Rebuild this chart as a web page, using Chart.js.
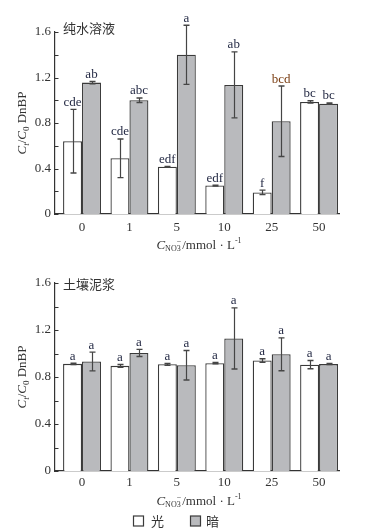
<!DOCTYPE html>
<html>
<head>
<meta charset="utf-8">
<script src="https://cdn.jsdelivr.net/npm/chart.js@4/dist/chart.umd.min.js"></script>
<style>
  html, body { margin: 0; padding: 0; background: #fff; }
  #wrap { position: relative; width: 367px; height: 532px; }
  canvas { position: absolute; left: 0; }
  #chart-water { top: 0; }
  #chart-soil { top: 255px; }
</style>
</head>
<body>
<div id="wrap">
  <canvas id="chart-water" width="367" height="255"></canvas>
  <canvas id="chart-soil" width="367" height="277"></canvas>
</div>
<script>
// ── Data ─────────────────────────────────────────────────────────────────
const NITRATE = ['0', '1', '5', '10', '25', '50'];
const Y_TICKS = [0, 0.4, 0.8, 1.2, 1.6];

const WATER_LIGHT     = [0.64, 0.49, 0.415, 0.25, 0.19, 0.985];
const WATER_LIGHT_ERR = [0.28, 0.17, 0.004, 0.004, 0.02, 0.01];
const WATER_LIGHT_SIG = ['cde', 'cde', 'edf', 'edf', 'f', 'bc'];
const WATER_DARK      = [1.155, 1.0, 1.40, 1.135, 0.815, 0.97];
const WATER_DARK_ERR  = [0.01, 0.02, 0.26, 0.29, 0.31, 0.006];
const WATER_DARK_SIG  = ['ab', 'abc', 'a', 'ab', 'bcd', 'bc'];

const SOIL_LIGHT     = [0.912, 0.895, 0.908, 0.918, 0.94, 0.905];
const SOIL_LIGHT_ERR = [0.006, 0.012, 0.008, 0.005, 0.015, 0.035];
const SOIL_LIGHT_SIG = ['a', 'a', 'a', 'a', 'a', 'a'];
const SOIL_DARK      = [0.932, 1.005, 0.90, 1.128, 0.993, 0.91];
const SOIL_DARK_ERR  = [0.08, 0.03, 0.125, 0.26, 0.14, 0.005];
const SOIL_DARK_SIG  = ['a', 'a', 'a', 'a', 'a', 'a'];

// ── Style ────────────────────────────────────────────────────────────────
const SERIF  = "'Liberation Serif', 'Times New Roman', serif";
const CJK    = "'Noto Sans CJK SC', sans-serif";
const INK    = '#333333';
const BAR_BORDER = '#3a3a3a';
const GRAY   = '#b9babd';
const SIG_INK = '#1f2540';
const SIG_SPECIAL = { bcd: '#7b3f14' };

Chart.defaults.font.family = SERIF;
Chart.defaults.font.size = 13;
Chart.defaults.color = INK;

// draw a run of text pieces: {t, italic, size, dy}
function drawRich(ctx, parts, cx, cy) {
  const fontOf = p => `${p.italic ? 'italic ' : ''}${p.size || 13}px ${SERIF}`;
  let total = 0;
  parts.forEach(p => { ctx.font = fontOf(p); p.w = ctx.measureText(p.t).width; total += p.w + (p.gap || 0); });
  let x = cx - total / 2;
  ctx.textAlign = 'left';
  ctx.textBaseline = 'alphabetic';
  parts.forEach(p => {
    ctx.font = fontOf(p);
    ctx.fillText(p.t, x + (p.dx || 0), cy + (p.dy || 0));
    x += p.w + (p.gap || 0);
  });
}

const Y_TITLE = () => [
  { t: 'C', italic: true },
  { t: 't', italic: true, size: 9, dy: 3 },
  { t: '/' },
  { t: 'C', italic: true },
  { t: '0', size: 9, dy: 3 },
  { t: ' DnBP' },
];
const X_TITLE = () => [
  { t: 'C', italic: true },
  { t: 'NO', size: 8, dy: 2 },
  { t: '3', size: 8, dy: 2, gap: -4 },
  { t: '−', size: 8, dy: -5, gap: 1 },
  { t: '/mmol · L' },
  { t: '-1', size: 8, dy: -6 },
];

// ── Panel plugin: inward ticks, error bars, letters, titles ─────────────
const panelPlugin = {
  id: 'panel',
  afterDatasetsDraw(chart, args, opts) {
    const { ctx, chartArea: area } = chart;
    const y = chart.scales.y;
    ctx.save();

    // inward y ticks (major + minor)
    ctx.strokeStyle = INK;
    ctx.lineWidth = 1;
    for (let v = 0; v <= 1.6 + 1e-9; v += 0.2) {
      const py = Math.round(y.getPixelForValue(v)) + 0.5;
      ctx.beginPath(); ctx.moveTo(area.left, py); ctx.lineTo(area.left + 3.5, py); ctx.stroke();
    }

    // error bars + significance letters
    chart.data.datasets.forEach((ds, di) => {
      const meta = chart.getDatasetMeta(di);
      meta.data.forEach((bar, i) => {
        const v = ds.data[i].y, e = ds.errors[i];
        const top = y.getPixelForValue(v + e);
        const bot = y.getPixelForValue(v - e);
        const bx = Math.round(bar.x) + 0.5;
        ctx.strokeStyle = '#454545';
        ctx.lineWidth = 1.2;
        ctx.beginPath(); ctx.moveTo(bx, top); ctx.lineTo(bx, bot); ctx.stroke();
        ctx.lineWidth = 1.4;
        ctx.beginPath();
        ctx.moveTo(bx - 3, top); ctx.lineTo(bx + 3, top);
        ctx.moveTo(bx - 3, bot); ctx.lineTo(bx + 3, bot);
        ctx.stroke();

        const label = ds.sig[i];
        ctx.fillStyle = SIG_SPECIAL[label] || SIG_INK;
        ctx.font = `13px ${SERIF}`;
        ctx.textAlign = 'center';
        ctx.textBaseline = 'alphabetic';
        ctx.fillText(label, bar.x, Math.min(top, bar.y) - 3.5);
      });
    });

    // panel title
    ctx.fillStyle = INK;
    ctx.font = `13px ${CJK}`;
    ctx.textAlign = 'left';
    ctx.textBaseline = 'middle';
    ctx.fillText(opts.title, 63, opts.titleY);

    // axis titles
    ctx.fillStyle = INK;
    ctx.save();
    ctx.translate(26, (area.top + area.bottom) / 2);
    ctx.rotate(-Math.PI / 2);
    drawRich(ctx, Y_TITLE(), 0, 0);
    ctx.restore();
    drawRich(ctx, X_TITLE(), 199, opts.xTitleY);

    // legend
    if (opts.legendY) {
      const ly = opts.legendY;
      ctx.lineWidth = 1.2;
      ctx.strokeStyle = BAR_BORDER;
      ctx.fillStyle = '#ffffff';
      ctx.fillRect(133.5, ly - 5, 10, 10); ctx.strokeRect(133.5, ly - 5, 10, 10);
      ctx.fillStyle = GRAY;
      ctx.fillRect(190.5, ly - 5, 10, 10); ctx.strokeRect(190.5, ly - 5, 10, 10);
      ctx.fillStyle = INK;
      ctx.font = `13px ${CJK}`;
      ctx.textAlign = 'left';
      ctx.textBaseline = 'middle';
      ctx.fillText('光', 151, ly);
      ctx.fillText('暗', 206, ly);
    }
    ctx.restore();
  },
};

// ── Chart builder ────────────────────────────────────────────────────────
function points(values) {
  return values.map((v, i) => ({ x: i, y: v }));
}

function renderPanel(canvasId, cfg) {
  new Chart(document.getElementById(canvasId), {
    type: 'bar',
    data: {
      datasets: [
        {
          label: '光',
          data: points(cfg.light),
          errors: cfg.lightErr,
          sig: cfg.lightSig,
          backgroundColor: '#ffffff',
          borderColor: BAR_BORDER,
          borderWidth: 1.3,
          borderSkipped: 'bottom',
        },
        {
          label: '暗',
          data: points(cfg.dark),
          errors: cfg.darkErr,
          sig: cfg.darkSig,
          backgroundColor: GRAY,
          borderColor: BAR_BORDER,
          borderWidth: 1.3,
          borderSkipped: 'bottom',
        },
      ],
    },
    options: {
      responsive: false,
      animation: false,
      events: [],
      categoryPercentage: 0.8,
      barPercentage: 1.0,
      layout: { padding: { left: 0, right: 28, top: cfg.padTop, bottom: 0 } },
      plugins: {
        legend: { display: false },
        tooltip: { enabled: false },
        panel: { title: cfg.title, titleY: cfg.titleY, xTitleY: cfg.xTitleY, legendY: cfg.legendY },
      },
      scales: {
        x: {
          type: 'linear',
          offset: false,
          min: -0.57,
          max: 5.42,
          afterBuildTicks: s => { s.ticks = NITRATE.map((_, i) => ({ value: i })); },
          afterFit: s => { s.height = cfg.xAxisHeight; },
          grid: { display: false, drawTicks: false, offset: false },
          border: { display: true, color: INK, width: 1.2 },
          ticks: {
            padding: cfg.xTickPad,
            color: INK,
            font: { size: 13, family: SERIF },
            callback: v => NITRATE[v] ?? '',
            maxRotation: 0,
          },
        },
        y: {
          min: 0,
          max: 1.6,
          afterBuildTicks: s => { s.ticks = Y_TICKS.map(v => ({ value: v })); },
          afterFit: s => { s.width = 55; },
          grid: { display: false, drawTicks: false },
          border: { display: true, color: INK, width: 1.2 },
          ticks: {
            padding: 4,
            color: INK,
            font: { size: 13, family: SERIF },
            callback: v => (v === 0 ? '0' : v.toFixed(1)),
          },
        },
      },
    },
    plugins: [panelPlugin],
  });
}

renderPanel('chart-water', {
  light: WATER_LIGHT, lightErr: WATER_LIGHT_ERR, lightSig: WATER_LIGHT_SIG,
  dark: WATER_DARK, darkErr: WATER_DARK_ERR, darkSig: WATER_DARK_SIG,
  title: '纯水溶液', titleY: 28, xTitleY: 249,
  padTop: 32, xAxisHeight: 41, xTickPad: 6,
});

renderPanel('chart-soil', {
  light: SOIL_LIGHT, lightErr: SOIL_LIGHT_ERR, lightSig: SOIL_LIGHT_SIG,
  dark: SOIL_DARK, darkErr: SOIL_DARK_ERR, darkSig: SOIL_DARK_SIG,
  title: '土壤泥浆', titleY: 29, xTitleY: 250, legendY: 266,
  padTop: 28, xAxisHeight: 61, xTickPad: 4,
});
</script>
</body>
</html>
